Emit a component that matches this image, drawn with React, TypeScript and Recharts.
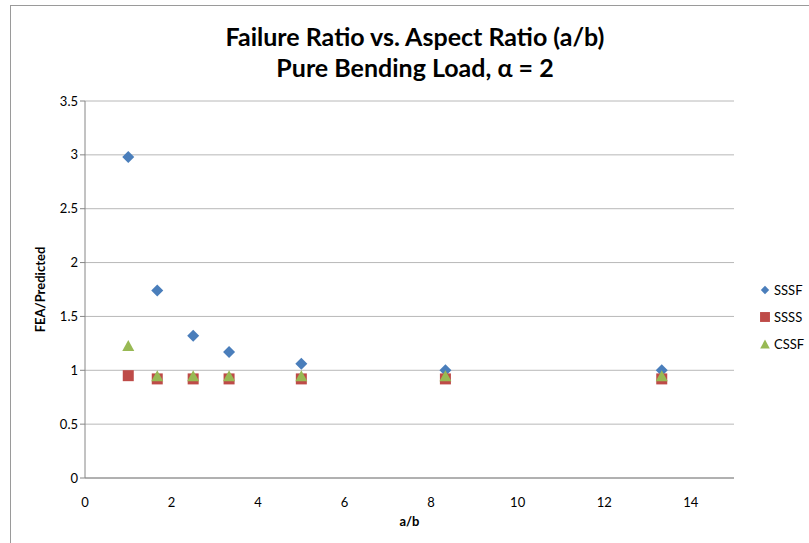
import React from 'react';
import {
  ScatterChart,
  Scatter,
  XAxis,
  YAxis,
  CartesianGrid,
} from 'recharts';

// a/b values shared by all three series
const aspectRatios = [1, 1.67, 2.5, 3.33, 5, 8.33, 13.33];

// FEA / Predicted values
const sssfValues = [2.98, 1.74, 1.32, 1.17, 1.06, 1.0, 1.0];
const ssssValues = [0.95, 0.92, 0.92, 0.92, 0.92, 0.92, 0.92];
const cssfValues = [1.23, 0.95, 0.95, 0.95, 0.95, 0.95, 0.95];

const seriesNames = ['SSSF', 'SSSS', 'CSSF'];
const seriesColors = ['#4a7ebb', '#be4b48', '#98b954'];

const xTicks = [0, 2, 4, 6, 8, 10, 12, 14];
const yTicks = [0, 0.5, 1, 1.5, 2, 2.5, 3, 3.5];

const toPoints = (values: number[]) =>
  aspectRatios.map((x, i) => ({ x, y: values[i] }));

const sssfData = toPoints(sssfValues);
const ssssData = toPoints(ssssValues);
const cssfData = toPoints(cssfValues);

const FONT = 'Lato, "Open Sans", sans-serif';

const Diamond = (props: any) => {
  const { cx, cy, fill } = props;
  const r = 6;
  return (
    <path
      d={`M${cx},${cy - r}L${cx + r},${cy}L${cx},${cy + r}L${cx - r},${cy}Z`}
      fill={fill}
    />
  );
};

const Square = (props: any) => {
  const { cx, cy, fill } = props;
  const s = 11;
  return <rect x={cx - s / 2} y={cy - s / 2} width={s} height={s} fill={fill} />;
};

const Triangle = (props: any) => {
  const { cx, cy, fill } = props;
  const h = 11;
  const w = 12;
  return (
    <path
      d={`M${cx},${cy - h / 2}L${cx + w / 2},${cy + h / 2}L${cx - w / 2},${cy + h / 2}Z`}
      fill={fill}
    />
  );
};

const shapes = [Diamond, Square, Triangle];

const LegendBox = () => (
  <div style={{ position: 'absolute', left: 758, top: 276 }}>
    {seriesNames.map((name, i) => {
      const Shape = shapes[i];
      const small = i === 0 ? 0.7 : i === 1 ? 0.9 : 0.8;
      return (
        <div
          key={name}
          style={{ display: 'flex', alignItems: 'center', height: 27, fontSize: 13, color: '#000' }}
        >
          <svg width={14} height={14} style={{ marginRight: 2 }}>
            <g transform={`translate(7,7) scale(${small}) translate(-7,-7)`}>
              <Shape cx={7} cy={7} fill={seriesColors[i]} />
            </g>
          </svg>
          <span>{name}</span>
        </div>
      );
    })}
  </div>
);

const App = () => {
  return (
    <div
      style={{
        position: 'absolute',
        left: 0,
        top: 0,
        width: 809,
        height: 543,
        overflow: 'hidden',
        background: '#fff',
        fontFamily: FONT,
      }}
    >
      {/* chart frame, only left and top edges are visible */}
      <div
        style={{
          position: 'absolute',
          left: 10,
          top: 5,
          width: 900,
          height: 700,
          borderLeft: '1.5px solid #9a9a9a',
          borderTop: '1.5px solid #9a9a9a',
        }}
      />
      <div
        style={{
          position: 'absolute',
          left: 0,
          top: 21,
          width: 830,
          textAlign: 'center',
          fontWeight: 'bold',
          fontSize: 25,
          lineHeight: '31px',
          color: '#000',
          fontFamily: FONT,
        }}
      >
        <div>Failure Ratio vs. Aspect Ratio (a/b)</div>
        <div>Pure Bending Load, α = 2</div>
      </div>
      <ScatterChart
        width={809}
        height={543}
        margin={{ top: 101, right: 75, bottom: 0, left: 25 }}
        style={{ position: 'absolute', left: 0, top: 0, fontFamily: FONT }}
      >
        <CartesianGrid vertical={false} stroke="#b8b8b8" strokeWidth={1} />
        <XAxis
          type="number"
          dataKey="x"
          domain={[0, 15]}
          ticks={xTicks}
          stroke="#868686"
          tickLine={false}
          height={65}
          tick={{ fill: '#000', fontSize: 13 }}
          tickMargin={14}
          label={{
            value: 'a/b',
            position: 'insideBottom',
            offset: 17,
            fill: '#000',
            fontSize: 13,
            fontWeight: 'bold',
          }}
        />
        <YAxis
          type="number"
          dataKey="y"
          domain={[0, 3.5]}
          ticks={yTicks}
          stroke="#868686"
          tickSize={5}
          tick={{ fill: '#000', fontSize: 13 }}
          width={60}
          label={{
            value: 'FEA/Predicted',
            angle: -90,
            position: 'insideLeft',
            offset: 15,
            fill: '#000',
            fontSize: 13,
            fontWeight: 'bold',
            style: { textAnchor: 'middle' },
          }}
        />
        <Scatter
          name={seriesNames[0]}
          data={sssfData}
          fill={seriesColors[0]}
          shape={Diamond}
          isAnimationActive={false}
        />
        <Scatter
          name={seriesNames[1]}
          data={ssssData}
          fill={seriesColors[1]}
          shape={Square}
          isAnimationActive={false}
        />
        <Scatter
          name={seriesNames[2]}
          data={cssfData}
          fill={seriesColors[2]}
          shape={Triangle}
          isAnimationActive={false}
        />
      </ScatterChart>
      <LegendBox />
    </div>
  );
};

export default App;
